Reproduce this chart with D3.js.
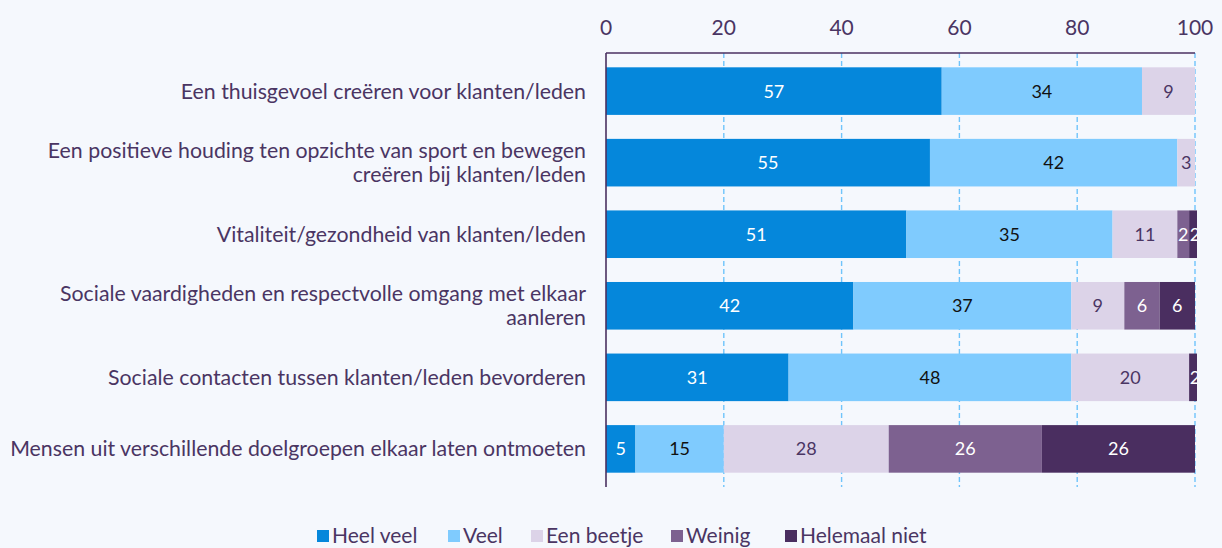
<!DOCTYPE html>
<html>
<head>
<meta charset="utf-8">
<script src="https://cdn.jsdelivr.net/npm/d3@7"></script>
<style>
  body { margin: 0; background: #f5f8fd; }
  svg { display: block; font-family: Lato, "Open Sans", sans-serif; }
</style>
</head>
<body>
<div id="chart"></div>
<script>
// categories (top to bottom)
var categories = [
    ["Een thuisgevoel creëren voor klanten/leden"],
    ["Een positieve houding ten opzichte van sport en bewegen", "creëren bij klanten/leden"],
    ["Vitaliteit/gezondheid van klanten/leden"],
    ["Sociale vaardigheden en respectvolle omgang met elkaar", "aanleren"],
    ["Sociale contacten tussen klanten/leden bevorderen"],
    ["Mensen uit verschillende doelgroepen elkaar laten ontmoeten"]
];

var seriesNames = ["Heel veel", "Veel", "Een beetje", "Weinig", "Helemaal niet"];
var heelVeel     = [57, 55, 51, 42, 31, 5];
var veel         = [34, 42, 35, 37, 48, 15];
var eenBeetje    = [9, 3, 11, 9, 20, 28];
var weinig       = [0, 0, 2, 6, 0, 26];
var helemaalNiet = [0, 0, 2, 6, 2, 26];
var xTicks = [0, 20, 40, 60, 80, 100];

var colors = ["#0587db", "#7fcbfe", "#dcd3e8", "#7d6190", "#4a2e60"];
var labelColors = ["#ffffff", "#111111", "#4a3563", "#ffffff", "#ffffff"];
var textColor = "#4a3563";

var svgWidth = 1222;
var svgHeight = 548;
var margin = { top: 53, left: 606, right: 27, bottom: 61 };
var width = svgWidth - margin.left - margin.right;
var height = svgHeight - margin.top - margin.bottom;

var svg = d3.select("#chart").append("svg")
    .attr("width", svgWidth)
    .attr("height", svgHeight);

var chartGroup = svg.append("g")
    .attr("transform", `translate(${margin.left}, ${margin.top})`);

// build stack data
var rows = categories.map(function (c, i) {
    return { idx: i, h0: heelVeel[i], h1: veel[i], h2: eenBeetje[i], h3: weinig[i], h4: helemaalNiet[i] };
});
var keys = ["h0", "h1", "h2", "h3", "h4"];
var stacked = d3.stack().keys(keys)(rows);

var xScale = d3.scaleLinear().domain([0, 100]).range([0, width]);
var yScale = d3.scaleBand().domain(d3.range(categories.length)).range([0, height]).paddingInner(0.335).paddingOuter(0.2);

// clip so overflow beyond 100 is cut like in the original
svg.append("clipPath").attr("id", "plotclip")
    .append("rect").attr("x", 0).attr("y", 0).attr("width", width + 2).attr("height", height);

// gridlines
chartGroup.selectAll(".grid")
    .data(xTicks.slice(1))
    .enter()
    .append("line")
    .attr("x1", d => xScale(d))
    .attr("x2", d => xScale(d))
    .attr("y1", 0)
    .attr("y2", height)
    .attr("stroke", "#6fc4fb")
    .attr("stroke-width", 1.4)
    .attr("stroke-dasharray", "5,3");

var bars = chartGroup.append("g").attr("clip-path", "url(#plotclip)");

stacked.forEach(function (layer, k) {
    var g = bars.append("g");
    var segs = layer.filter(d => d[1] - d[0] > 0);
    g.selectAll("rect")
        .data(segs)
        .enter()
        .append("rect")
        .attr("x", d => xScale(d[0]))
        .attr("y", d => yScale(d.data.idx))
        .attr("width", d => xScale(d[1]) - xScale(d[0]))
        .attr("height", yScale.bandwidth())
        .attr("fill", colors[k]);
    g.selectAll("text")
        .data(segs)
        .enter()
        .append("text")
        .attr("x", d => (xScale(d[0]) + xScale(d[1])) / 2)
        .attr("y", d => yScale(d.data.idx) + yScale.bandwidth() / 2)
        .attr("dy", "0.36em")
        .attr("text-anchor", "middle")
        .attr("font-size", 18)
        .attr("fill", labelColors[k])
        .text(d => d[1] - d[0]);
});

// axis lines
chartGroup.append("line")
    .attr("x1", 0).attr("x2", width).attr("y1", 0).attr("y2", 0)
    .attr("stroke", "#4a3060").attr("stroke-width", 1.6);
chartGroup.append("line")
    .attr("x1", 0).attr("x2", 0).attr("y1", 0).attr("y2", height)
    .attr("stroke", "#4a3060").attr("stroke-width", 1.6);

// top tick labels
chartGroup.selectAll(".xtick")
    .data(xTicks)
    .enter()
    .append("text")
    .attr("x", d => xScale(d))
    .attr("y", -18)
    .attr("text-anchor", "middle")
    .attr("font-size", 21)
    .attr("fill", textColor)
    .text(d => d);

// category labels
chartGroup.selectAll(".cat")
    .data(categories)
    .enter()
    .append("text")
    .attr("text-anchor", "end")
    .attr("font-size", 21.3)
    .attr("fill", textColor)
    .each(function (lines, i) {
        var t = d3.select(this);
        var cy = yScale(i) + yScale.bandwidth() / 2;
        var start = cy - (lines.length - 1) * 12;
        lines.forEach(function (l, j) {
            t.append("tspan")
                .attr("x", -20)
                .attr("y", start + j * 24)
                .attr("dy", "0.35em")
                .text(l);
        });
    });

// legend
var legend = svg.append("g").attr("transform", "translate(0, 536)");
var legendX = [317, 448, 531, 671, 785];
seriesNames.forEach(function (name, k) {
    legend.append("rect")
        .attr("x", legendX[k]).attr("y", -6)
        .attr("width", 12).attr("height", 12)
        .attr("fill", colors[k]);
    legend.append("text")
        .attr("x", legendX[k] + 15).attr("y", 0)
        .attr("dy", "0.35em")
        .attr("font-size", 21)
        .attr("fill", textColor)
        .text(name);
});
</script>
</body>
</html>
